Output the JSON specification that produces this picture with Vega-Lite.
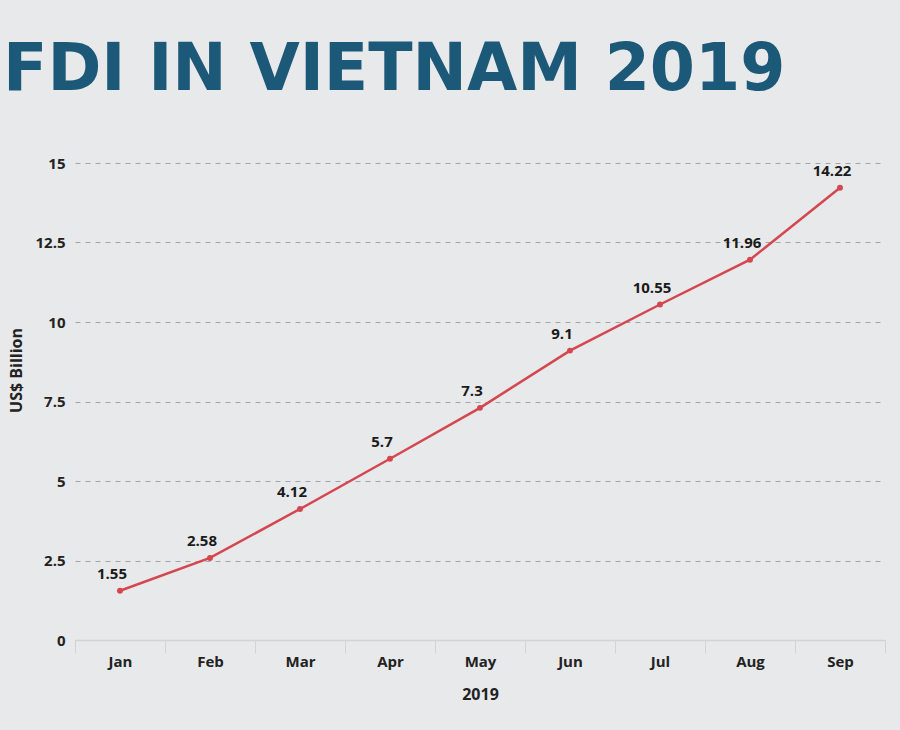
{
  "$schema": "https://vega.github.io/schema/vega-lite/v6.json",
  "width": 810,
  "height": 477,
  "autosize": {"type": "none"},
  "padding": {"left": 75, "top": 163, "right": 15, "bottom": 90},
  "background": "#e8e9eb",
  "config": {
    "view": {"stroke": null},
    "font": "Open Sans"
  },
  "title": {
    "text": "FDI IN VIETNAM 2019",
    "anchor": "start",
    "frame": "group",
    "dx": -72,
    "offset": 52,
    "font": "DejaVu Sans",
    "fontSize": 65,
    "fontWeight": "bold",
    "color": "#1c5877"
  },
  "data": {
    "values": [
      {"month": "Jan", "value": 1.55},
      {"month": "Feb", "value": 2.58},
      {"month": "Mar", "value": 4.12},
      {"month": "Apr", "value": 5.7},
      {"month": "May", "value": 7.3},
      {"month": "Jun", "value": 9.1},
      {"month": "Jul", "value": 10.55},
      {"month": "Aug", "value": 11.96},
      {"month": "Sep", "value": 14.22}
    ]
  },
  "encoding": {
    "x": {
      "field": "month",
      "type": "ordinal",
      "sort": null,
      "scale": {"type": "band", "paddingInner": 0, "paddingOuter": 0},
      "axis": {
        "title": "2019",
        "titleFont": "Open Sans",
        "titleFontSize": 16,
        "titleFontWeight": "bold",
        "titleColor": "#222222",
        "titlePadding": 17,
        "labelAngle": 0,
        "labelFont": "Open Sans",
        "labelFontSize": 15,
        "labelFontWeight": "bold",
        "labelColor": "#222222",
        "labelPadding": 1,
        "tickBand": "extent",
        "tickSize": 13,
        "tickColor": "#d2d3d5",
        "domainColor": "#d2d3d5",
        "domainWidth": 1.5,
        "grid": false
      }
    },
    "y": {
      "field": "value",
      "type": "quantitative",
      "scale": {"domain": [0, 15], "nice": false},
      "axis": {
        "title": "US$ Billion",
        "titleFont": "Open Sans",
        "titleFontSize": 16,
        "titleFontWeight": "bold",
        "titleColor": "#222222",
        "titlePadding": 10,
        "titleY": 207,
        "values": [0, 2.5, 5, 7.5, 10, 12.5, 15],
        "format": ".1~f",
        "labelFont": "Open Sans",
        "labelFontSize": 15,
        "labelFontWeight": "bold",
        "labelColor": "#222222",
        "labelPadding": 10,
        "ticks": false,
        "domain": false,
        "grid": true,
        "gridColor": "#a3a4a6",
        "gridDash": [5, 5],
        "gridWidth": 1
      }
    }
  },
  "layer": [
    {
      "mark": {"type": "line", "color": "#d4474f", "strokeWidth": 2.5}
    },
    {
      "mark": {"type": "point", "filled": true, "color": "#d4474f", "size": 35, "opacity": 1}
    },
    {
      "mark": {"type": "text", "dy": -17, "dx": -8, "font": "Open Sans", "fontSize": 15, "fontWeight": "bold", "color": "#1a1a1a"},
      "encoding": {"text": {"field": "value", "type": "quantitative"}}
    }
  ]
}
